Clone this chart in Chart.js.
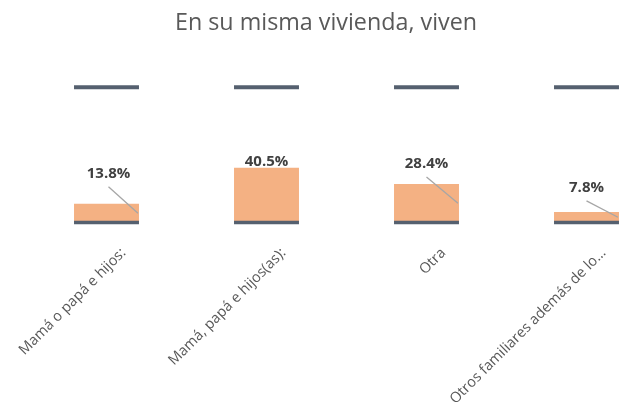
<!DOCTYPE html>
<html lang="es">
<head>
<meta charset="UTF-8">
<title>En su misma vivienda, viven</title>
<style>
  html, body { margin: 0; padding: 0; background: #fff; overflow: hidden; }
  #wrap { width: 652px; height: 406px; }
</style>
</head>
<body>
<div id="wrap"><canvas id="chart" width="652" height="406"></canvas></div>
<script src="https://cdn.jsdelivr.net/npm/chart.js"></script>
<script>
const categories = ['Mamá o papá e hijos:', 'Mamá, papá e hijos(as):', 'Otra', 'Otros familiares además de lo…'];
const shares = [13.8, 40.5, 28.4, 7.8];
const totals = [100, 100, 100, 100];

// dark caps at 0% and 100% for each category
const capLines = {
    id: 'capLines',
    afterDatasetsDraw(chart) {
        const meta = chart.getDatasetMeta(1);
        const ctx = chart.ctx;
        ctx.save();
        ctx.strokeStyle = '#55606f';
        meta.data.forEach(bar => {
            const half = bar.width / 2;
            ctx.lineWidth = 4;
            ctx.beginPath();
            ctx.moveTo(bar.x - half, bar.y);
            ctx.lineTo(bar.x + half, bar.y);
            ctx.stroke();
            ctx.lineWidth = 3.5;
            ctx.beginPath();
            ctx.moveTo(bar.x - half, bar.base);
            ctx.lineTo(bar.x + half, bar.base);
            ctx.stroke();
        });
        ctx.restore();
    }
};

// value labels with leader lines
const shareLabels = {
    id: 'shareLabels',
    afterDatasetsDraw(chart, args, opts) {
        const meta = chart.getDatasetMeta(0);
        const ctx = chart.ctx;
        ctx.save();
        ctx.font = 'bold 15px "Open Sans"';
        ctx.textAlign = 'center';
        ctx.textBaseline = 'middle';
        meta.data.forEach((bar, i) => {
            const lift = opts.lift[i];
            const lx = bar.x + opts.shiftX[i];
            const ly = bar.y - lift;
            if (lift > 12) {
                ctx.strokeStyle = '#a6a6a6';
                ctx.lineWidth = 1.3;
                ctx.beginPath();
                ctx.moveTo(lx, ly + 13);
                ctx.lineTo(bar.x + bar.width / 2 - 1, (bar.y + bar.base) / 2);
                ctx.stroke();
            }
            ctx.fillStyle = '#404040';
            ctx.fillText(shares[i].toFixed(1) + '%', lx, ly);
        });
        ctx.restore();
    }
};

new Chart(document.getElementById('chart'), {
    type: 'bar',
    data: {
        labels: categories,
        datasets: [
            { label: 'Porcentaje', data: shares, backgroundColor: '#f4b183', grouped: false, clip: false, order: 1 },
            { label: 'Total', data: totals, backgroundColor: 'rgba(0,0,0,0)', borderWidth: 0, grouped: false, clip: false, order: 0 }
        ]
    },
    options: {
        responsive: false,
        animation: false,
        devicePixelRatio: 1,
        datasets: { bar: { categoryPercentage: 1, barPercentage: 0.406 } },
        layout: { autoPadding: false, padding: 0 },
        plugins: {
            legend: { display: false },
            tooltip: { enabled: false },
            title: {
                display: true,
                text: 'En su misma vivienda, viven',
                color: '#595959',
                font: { family: '"Open Sans"', size: 23.3, weight: 'normal' },
                padding: { top: 9, bottom: 50.2 }
            },
            shareLabels: { lift: [30, 6, 20, 24], shiftX: [2, 0, 0, 0] }
        },
        scales: {
            x: {
                offset: false,
                grid: { display: false },
                border: { display: false },
                ticks: {
                    autoSkip: false,
                    minRotation: 45,
                    maxRotation: 45,
                    labelOffset: 17,
                    padding: 14,
                    color: '#595959',
                    font: { family: '"Open Sans"', size: 14.5 }
                },
                afterFit: s => {
                    s.height = 183.5;
                    s.paddingLeft = 0;
                    s.paddingRight = 0;
                }
            },
            y: {
                min: 0, max: 100,
                grid: { display: false },
                border: { display: false },
                ticks: { display: false },
                afterFit: s => { s.width = 106.5; }
            },
            y2: {
                position: 'right',
                min: 0, max: 100,
                grid: { display: false },
                border: { display: false },
                ticks: { display: false },
                afterFit: s => { s.width = 65.5; }
            }
        }
    },
    plugins: [capLines, shareLabels]
});
</script>
</body>
</html>
